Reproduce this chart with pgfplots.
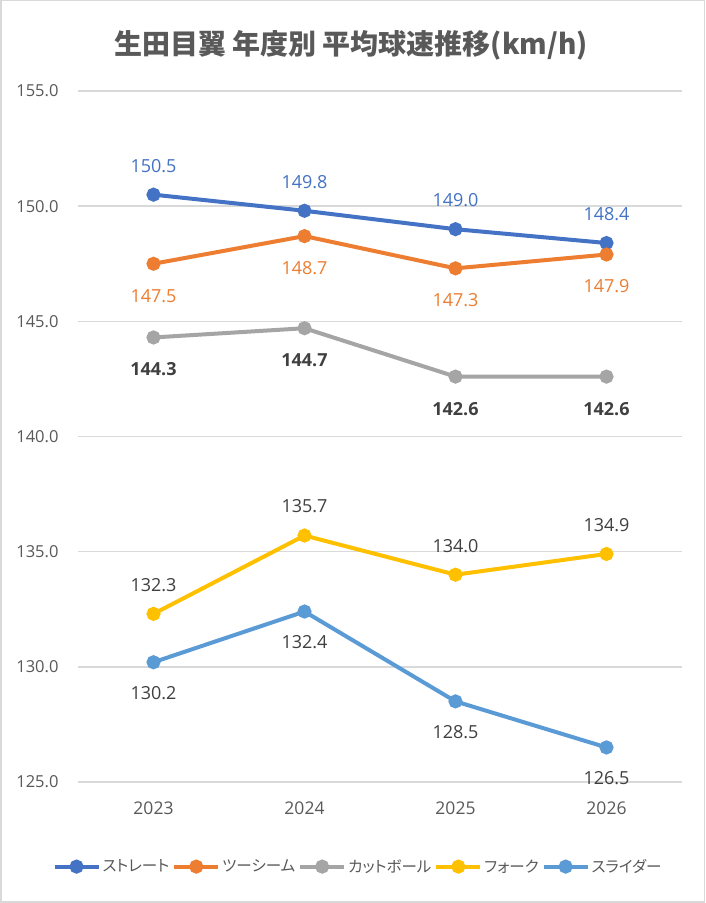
\documentclass[border=0pt]{standalone}
\usepackage{fontspec}
\setmainfont{Open Sans}
\newfontfamily\cjk{Noto Sans CJK JP}
\newfontfamily\cjkp[RawFeature=+palt]{Noto Sans CJK JP}
\usepackage{pgfplots}
\pgfplotsset{compat=1.18}
\definecolor{cA}{HTML}{4472C4}
\definecolor{cB}{HTML}{ED7D31}
\definecolor{cC}{HTML}{A5A5A5}
\definecolor{cD}{HTML}{FFC000}
\definecolor{cE}{HTML}{5B9BD5}
\definecolor{txt}{HTML}{595959}
\definecolor{dark}{HTML}{404040}
\definecolor{grid}{HTML}{D9D9D9}
\begin{document}
\begin{tikzpicture}[x=1pt,y=1pt]
\useasboundingbox (0,0) rectangle (705,903);
\fill[white] (0,0) rectangle (705,903);
\draw[grid, line width=1.5pt] (0.75,0.75) rectangle (704.25,902.25);
\node[text=txt, font=\cjk\bfseries\fontsize{28}{33}\selectfont] at (351,858) {生田目翼 年度別 平均球速推移(km/h)};
\begin{axis}[
  at={(78pt,121pt)}, anchor=south west,
  scale only axis, width=604pt, height=691pt,
  xmin=-0.5, xmax=3.5, ymin=125, ymax=155,
  xtick={0,1,2,3}, xticklabels={2023,2024,2025,2026},
  ytick={125,130,...,155},
  axis line style={draw=none},
  major tick length=0pt,
  xmajorgrids=false,
  ymajorgrids=true,
  y grid style={grid, line width=1.5pt},
  /pgf/number format/assume math mode=true,
  /pgf/number format/fixed,
  /pgf/number format/fixed zerofill,
  /pgf/number format/precision=1,
  yticklabel style={font=\fontsize{16.5}{20}\selectfont, text=txt, xshift=-16pt},
  xticklabel style={font=\fontsize{17.5}{20}\selectfont, text=txt, yshift=-16pt},
  every axis plot/.append style={line width=4pt, mark=*, mark size=5pt},
  nodes near coords,
  every node near coord/.append style={font=\fontsize{18}{21}\selectfont, anchor=center},
  legend columns=-1,
  legend style={at={(0.4636,-0.1)}, yshift=-4pt, anchor=north, draw=none, fill=none,
    font=\cjkp\fontsize{15.5}{19}\selectfont, text=txt,
    /tikz/every even column/.append style={column sep=1pt}},
  legend image code/.code={\draw[mark repeat=2, mark phase=2] plot coordinates {(0pt,0pt) (22pt,0pt) (44pt,0pt)};},
]
\addplot[color=cA, nodes near coords style={text=cA, yshift=29pt}] coordinates {(0,150.5) (1,149.8) (2,149.0) (3,148.4)};
\addlegendentry{ストレート}
\addplot[color=cB, nodes near coords style={text=cB, yshift=-32pt}] coordinates {(0,147.5) (1,148.7) (2,147.3) (3,147.9)};
\addlegendentry{ツーシーム}
\addplot[color=cC, nodes near coords style={text=dark, font=\bfseries\fontsize{18}{21}\selectfont, yshift=-32pt}] coordinates {(0,144.3) (1,144.7) (2,142.6) (3,142.6)};
\addlegendentry{カットボール}
\addplot[color=cD, nodes near coords style={text=dark, yshift=29pt}] coordinates {(0,132.3) (1,135.7) (2,134.0) (3,134.9)};
\addlegendentry{フォーク}
\addplot[color=cE, nodes near coords style={text=dark, yshift=-31pt}] coordinates {(0,130.2) (1,132.4) (2,128.5) (3,126.5)};
\addlegendentry{スライダー}
\end{axis}
\end{tikzpicture}
\end{document}
